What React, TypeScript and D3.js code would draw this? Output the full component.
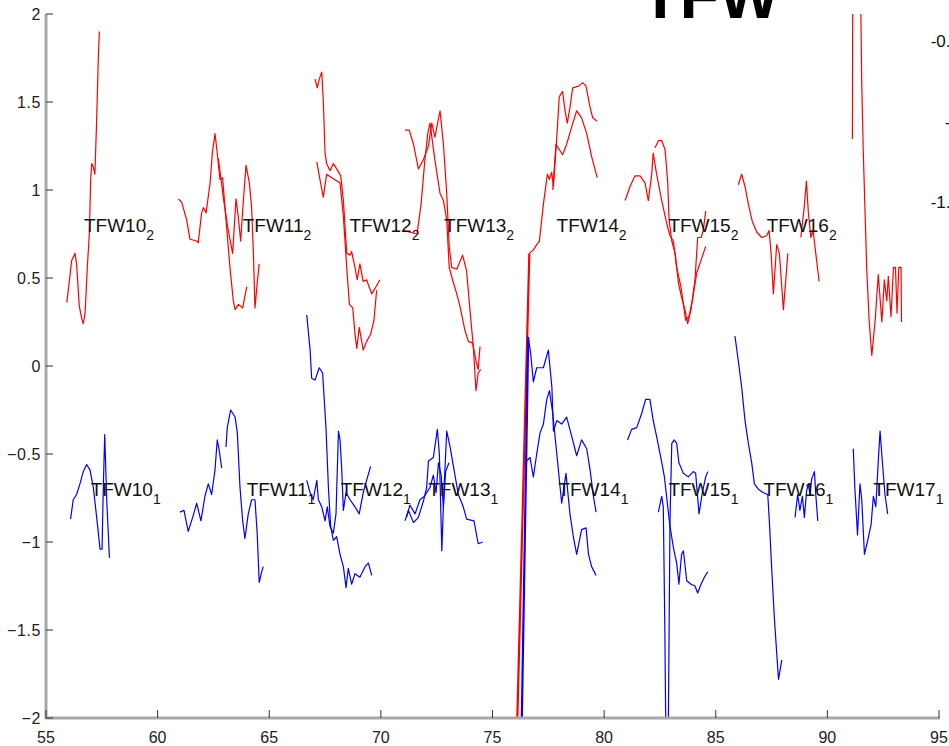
import React from "react";
import * as d3 from "d3";

type P = [number, number];

const xTicks = [55, 60, 65, 70, 75, 80, 85, 90, 95];
const yTicks = [-2, -1.5, -1, -0.5, 0, 0.5, 1, 1.5, 2];

const topNames = ["TFW10", "TFW11", "TFW12", "TFW13", "TFW14", "TFW15", "TFW16"];
const topX = [56.7, 63.81, 68.59, 72.83, 77.87, 82.88, 87.28];
const topY = 0.8;
const botNames = ["TFW10", "TFW11", "TFW12", "TFW13", "TFW14", "TFW15", "TFW16", "TFW17"];
const botX = [57.0, 63.99, 68.2, 72.12, 77.95, 82.88, 87.13, 92.06];
const botY = -0.7;

const rightLabels = ["-0.5", "-1", "-1.5"];

// series 2 (red)
const red10: P[] = [[55.93,0.36],[56.07,0.51],[56.15,0.6],[56.3,0.64],[56.37,0.58],[56.49,0.34],[56.6,0.27],[56.67,0.24],[56.75,0.3],[56.85,0.56],[56.94,0.75],[57.0,1.06],[57.05,1.15],[57.12,1.13],[57.19,1.09],[57.27,1.4],[57.34,1.74],[57.39,1.9]];
const red11a: P[] = [[60.93,0.95],[61.08,0.93],[61.3,0.83],[61.45,0.72],[61.75,0.71],[61.82,0.7],[61.97,0.87],[62.05,0.9],[62.17,0.87],[62.35,1.04],[62.45,1.21],[62.57,1.32],[62.67,1.21],[62.79,1.06],[62.91,1.07],[63.05,0.85],[63.24,0.56],[63.39,0.37],[63.47,0.32],[63.62,0.35],[63.81,0.33],[63.99,0.45]];
const red11b: P[] = [[62.72,1.18],[62.95,0.95],[63.15,0.78],[63.36,0.64],[63.51,0.95],[63.61,0.85],[63.72,0.71],[63.84,0.94],[63.96,1.14],[64.11,1.04],[64.21,0.9],[64.29,0.64],[64.36,0.33],[64.46,0.47],[64.55,0.58]];
const red12a: P[] = [[67.05,1.63],[67.15,1.58],[67.24,1.63],[67.35,1.67],[67.42,1.51],[67.5,1.21],[67.57,1.15],[67.72,1.11],[67.87,1.15],[68.02,1.12],[68.2,1.08],[68.32,0.94],[68.47,0.64],[68.62,0.63],[68.69,0.65],[68.84,0.56],[68.94,0.49],[69.06,0.58],[69.21,0.48],[69.36,0.49],[69.59,0.41],[69.78,0.45],[69.96,0.49]];
const red12b: P[] = [[67.13,1.16],[67.27,1.06],[67.42,0.96],[67.57,1.09],[67.8,1.07],[68.17,1.04],[68.32,0.85],[68.47,0.56],[68.59,0.35],[68.74,0.33],[68.84,0.18],[68.92,0.1],[69.03,0.22],[69.21,0.09],[69.36,0.14],[69.54,0.18],[69.69,0.26],[69.81,0.43]];
const red13a: P[] = [[71.08,1.34],[71.27,1.34],[71.46,1.26],[71.68,1.12],[71.9,1.17],[72.13,1.25],[72.28,1.38],[72.42,1.3],[72.65,1.45],[72.8,1.26],[72.95,0.98],[73.06,0.68],[73.17,0.56],[73.4,0.55],[73.66,0.63],[73.84,0.54],[73.99,0.32],[74.14,0.11],[74.26,-0.14],[74.36,-0.04],[74.47,-0.02]];
const red13b: P[] = [[71.0,0.77],[71.3,0.76],[71.62,0.75],[71.8,0.92],[71.97,1.17],[72.1,1.32],[72.2,1.38],[72.42,1.17],[72.65,0.98],[72.8,0.94],[72.95,0.83],[73.06,0.56],[73.21,0.49],[73.4,0.41],[73.54,0.34],[73.77,0.2],[73.92,0.14],[74.11,0.13],[74.26,0.03],[74.36,-0.02],[74.44,0.11]];
const redJump: P[] = [[76.06,-2.25],[76.65,0.64]];
const red14a: P[] = [[76.65,0.64],[76.83,0.66],[76.98,0.69],[77.1,0.71],[77.28,0.92],[77.46,1.09],[77.55,1.06],[77.65,1.1],[77.73,1.02],[77.88,1.3],[77.99,1.53],[78.14,1.56],[78.25,1.45],[78.35,1.38],[78.47,1.47],[78.59,1.58],[78.85,1.59],[79.04,1.61],[79.19,1.59],[79.37,1.47],[79.49,1.41],[79.69,1.39]];
const red14b: P[] = [[77.7,1.0],[77.84,1.26],[78.14,1.2],[78.32,1.26],[78.55,1.36],[78.77,1.45],[78.99,1.41],[79.22,1.32],[79.44,1.19],[79.69,1.07]];
const red15a: P[] = [[80.94,0.94],[81.16,1.02],[81.38,1.08],[81.61,1.08],[81.83,1.04],[81.98,0.94],[82.13,1.09],[82.2,1.21],[82.35,1.09],[82.58,0.94],[82.8,0.81],[82.95,0.74],[83.1,0.71],[83.25,0.56],[83.44,0.45],[83.55,0.35],[83.65,0.26],[83.8,0.28],[83.95,0.37],[84.15,0.53],[84.34,0.6],[84.55,0.68]];
const red15b: P[] = [[82.28,1.24],[82.43,1.28],[82.58,1.28],[82.73,1.23],[82.85,1.04],[82.91,0.83],[83.03,0.71],[83.18,0.64],[83.33,0.47],[83.47,0.39],[83.62,0.32],[83.74,0.24],[83.89,0.32],[84.07,0.49],[84.19,0.73],[84.34,0.73],[84.44,0.77],[84.55,0.88]];
const red16a: P[] = [[86.01,1.03],[86.16,1.09],[86.31,1.02],[86.46,0.92],[86.64,0.82],[86.84,0.76],[87.06,0.73],[87.28,0.74],[87.39,0.77],[87.48,0.64],[87.58,0.41],[87.73,0.69],[87.85,0.64],[88.03,0.32],[88.23,0.64]];
const red16b: P[] = [[88.81,0.73],[88.96,0.9],[89.06,1.05],[89.15,0.87],[89.26,0.73],[89.36,0.77],[89.48,0.64],[89.63,0.48]];
const red17: P[] = [[91.12,1.29],[91.14,2.3],[91.2,2.4],[91.46,2.4],[91.5,2.0],[91.54,1.6],[91.61,1.21],[91.76,0.56],[91.87,0.26],[91.99,0.06],[92.14,0.26],[92.28,0.52],[92.44,0.25],[92.55,0.49],[92.66,0.37],[92.73,0.51],[92.85,0.28],[92.96,0.56],[93.05,0.56],[93.12,0.3],[93.2,0.56],[93.3,0.56],[93.32,0.25]];

// series 1 (blue)
const blue10: P[] = [[56.1,-0.87],[56.22,-0.76],[56.37,-0.73],[56.52,-0.67],[56.67,-0.6],[56.82,-0.56],[56.97,-0.59],[57.12,-0.69],[57.27,-0.86],[57.42,-1.04],[57.51,-1.04],[57.57,-0.67],[57.63,-0.39],[57.72,-0.76],[57.84,-1.09]];
const blue11a: P[] = [[61.0,-0.83],[61.18,-0.82],[61.37,-0.94],[61.57,-0.86],[61.75,-0.78],[61.94,-0.88],[62.12,-0.74],[62.27,-0.67],[62.42,-0.73],[62.57,-0.59],[62.67,-0.42],[62.76,-0.48],[62.87,-0.58]];
const blue11b: P[] = [[63.06,-0.46],[63.12,-0.35],[63.27,-0.25],[63.47,-0.29],[63.57,-0.38],[63.69,-0.69],[63.81,-0.88],[63.91,-0.98],[64.06,-0.84],[64.21,-0.76],[64.36,-0.76],[64.46,-0.95],[64.55,-1.23],[64.66,-1.17],[64.73,-1.14]];
const blue12a: P[] = [[66.68,0.29],[66.83,0.09],[66.9,-0.07],[67.05,-0.08],[67.24,-0.01],[67.39,-0.04],[67.54,-0.35],[67.65,-0.69],[67.75,-0.91],[67.87,-0.99],[68.02,-0.97],[68.17,-1.07],[68.32,-1.14],[68.44,-1.26],[68.54,-1.15],[68.69,-1.24],[68.84,-1.18],[69.06,-1.2],[69.29,-1.14],[69.44,-1.12],[69.59,-1.19]];
const blue12b: P[] = [[66.68,-0.65],[66.83,-0.72],[66.97,-0.76],[67.13,-0.65],[67.2,-0.76],[67.35,-0.8],[67.5,-0.88],[67.6,-0.8],[67.72,-0.91],[67.87,-0.95],[67.99,-0.84],[68.1,-0.37],[68.17,-0.42],[68.24,-0.57],[68.32,-0.82],[68.44,-0.72],[68.62,-0.76],[68.84,-0.8],[69.03,-0.84],[69.21,-0.72],[69.36,-0.65],[69.54,-0.57]];
const blue13a: P[] = [[71.08,-0.88],[71.23,-0.82],[71.46,-0.89],[71.68,-0.86],[71.9,-0.77],[72.05,-0.69],[72.13,-0.54],[72.35,-0.52],[72.53,-0.36],[72.62,-0.5],[72.73,-1.05],[72.83,-0.69],[72.95,-0.37],[73.1,-0.46],[73.25,-0.57],[73.47,-0.73],[73.69,-0.8],[73.84,-0.87],[74.17,-0.88],[74.36,-1.01],[74.56,-1.0]];
const blue13b: P[] = [[71.15,-0.86],[71.3,-0.79],[71.53,-0.84],[71.75,-0.76],[71.95,-0.74],[72.2,-0.69],[72.35,-0.62],[72.47,-0.72],[72.58,-0.55],[72.7,-0.62],[72.8,-0.8],[72.9,-0.6],[73.05,-0.55]];
const blueJump: P[] = [[76.28,-2.25],[76.6,0.165]];
const blue14a: P[] = [[76.6,0.165],[76.71,0.07],[76.83,-0.09],[76.98,-0.01],[77.13,-0.01],[77.28,-0.01],[77.5,0.09],[77.66,-0.12],[77.73,-0.37],[77.88,-0.31],[78.1,-0.33],[78.32,-0.29],[78.55,-0.4],[78.77,-0.51],[78.99,-0.42],[79.22,-0.47],[79.37,-0.59],[79.52,-0.74],[79.64,-0.83]];
const blue14b: P[] = [[76.46,-0.65],[76.53,-0.54],[76.68,-0.52],[76.83,-0.63],[76.98,-0.5],[77.13,-0.38],[77.28,-0.33],[77.43,-0.19],[77.55,-0.14],[77.7,-0.27],[77.88,-0.5],[78.1,-0.78],[78.29,-0.61],[78.47,-0.84],[78.62,-0.97],[78.77,-1.07],[78.99,-0.93],[79.19,-0.92],[79.3,-1.07],[79.44,-1.14],[79.64,-1.19]];
const blue15a: P[] = [[81.05,-0.42],[81.23,-0.36],[81.46,-0.35],[81.68,-0.27],[81.86,-0.19],[82.05,-0.19],[82.2,-0.31],[82.35,-0.4],[82.54,-0.52],[82.7,-0.63],[82.85,-0.8],[82.95,-0.91],[83.1,-1.03],[83.25,-1.12],[83.35,-1.24],[83.47,-1.07],[83.55,-1.05],[83.7,-1.22],[83.89,-1.24],[84.07,-1.25],[84.19,-1.29],[84.34,-1.24],[84.49,-1.2],[84.64,-1.17]];
const blue15b: P[] = [[82.43,-0.83],[82.58,-0.74],[82.65,-0.8],[82.72,-1.5],[82.78,-2.3],[82.86,-2.3],[82.95,-0.88],[83.03,-0.44],[83.14,-0.42],[83.25,-0.44],[83.35,-0.55],[83.55,-0.61],[83.77,-0.63],[83.99,-0.6],[84.1,-0.61],[84.25,-0.84],[84.4,-0.72],[84.55,-0.63],[84.64,-0.6]];
const blue16a: P[] = [[85.86,0.17],[86.01,0.03],[86.16,-0.12],[86.31,-0.31],[86.46,-0.44],[86.61,-0.55],[86.73,-0.67],[86.91,-0.7],[87.13,-0.72],[87.33,-0.73],[87.4,-0.88],[87.51,-1.16],[87.63,-1.44],[87.73,-1.63],[87.81,-1.78],[87.96,-1.67]];
const blue16b: P[] = [[88.55,-0.86],[88.67,-0.73],[88.77,-0.82],[88.88,-0.74],[88.97,-0.86],[89.07,-0.71],[89.15,-0.67],[89.22,-0.73],[89.3,-0.64],[89.42,-0.6],[89.48,-0.73],[89.57,-0.88]];
const blue17: P[] = [[91.16,-0.47],[91.23,-0.69],[91.35,-0.96],[91.46,-0.67],[91.54,-0.76],[91.66,-1.07],[91.81,-0.99],[91.96,-0.9],[92.06,-0.74],[92.17,-0.8],[92.28,-0.54],[92.36,-0.37],[92.46,-0.54],[92.58,-0.73],[92.7,-0.84]];

const redSeries = [red10, red11a, red11b, red12a, red12b, red13a, red13b, red14a, red14b, red15a, red15b, red16a, red16b, red17];
const blueSeries = [blue10, blue11a, blue11b, blue12a, blue12b, blue13a, blue13b, blue14a, blue14b, blue15a, blue15b, blue16a, blue16b, blue17];

const W = 949;
const H = 746;
const FONT = "'Liberation Sans', Arial, Helvetica, sans-serif";

export default function App() {
  const x = d3.scaleLinear().domain([55, 95]).range([46, 939]);
  const y = d3.scaleLinear().domain([-2, 2]).range([718, 14]);
  const line = d3.line<P>().x((d) => x(d[0])).y((d) => y(d[1]));
  const fmt = (v: number) => (v < 0 ? "\u2212" + String(Math.abs(v)) : String(v));

  return (
    <svg width={W} height={H} style={{ position: "absolute", left: 0, top: 0, background: "#fff" }} fontFamily={FONT}>
      <defs>
        <clipPath id="plotclip">
          <rect x={46} y={14} width={893} height={704} />
        </clipPath>
      </defs>
      <rect x={0} y={0} width={W} height={H} fill="#fff" />
      {/* title, cropped at the top */}
      <text x={710} y={18} textAnchor="middle" fontSize={64} fontWeight="bold" fill="#000">TFW</text>
      {/* neighbouring axis tick labels */}
      {rightLabels.map((t, i) => (
        <text key={t} x={960} y={47 + i * 80.5} textAnchor="end" fontSize={17} fill="#111">{t}</text>
      ))}
      {/* lines */}
      <g clipPath="url(#plotclip)" fill="none">
        {redSeries.map((s, i) => (
          <path key={"r" + i} d={line(s) || ""} stroke="#ff0000" strokeWidth={1.2} strokeLinejoin="round" />
        ))}
        {blueSeries.map((s, i) => (
          <path key={"b" + i} d={line(s) || ""} stroke="#0000ff" strokeWidth={1.2} strokeLinejoin="round" />
        ))}
        <path d={line(redJump) || ""} stroke="#ff0000" strokeWidth={2.2} />
        <path d={line(blueJump) || ""} stroke="#0000ff" strokeWidth={2.2} />
      </g>
      {/* labels */}
      {topNames.map((n, i) => (
        <text key={"t" + n} x={x(topX[i])} y={y(topY)} dy="0.35em" fontSize={19} fill="#111">
          {n}
          <tspan dy={8} fontSize={14}>2</tspan>
        </text>
      ))}
      {botNames.map((n, i) => (
        <text key={"b" + n} x={x(botX[i])} y={y(botY)} dy="0.35em" fontSize={19} fill="#111">
          {n}
          <tspan dy={8} fontSize={14}>1</tspan>
        </text>
      ))}
      {/* axes */}
      <line x1={46} x2={46} y1={14} y2={719} stroke="#a8a8a8" strokeWidth={3} />
      <line x1={45} x2={940} y1={718} y2={718} stroke="#a8a8a8" strokeWidth={3} />
      {yTicks.map((t) => (
        <g key={"yt" + t}>
          <line x1={46} x2={53} y1={y(t)} y2={y(t)} stroke="#333" strokeWidth={1} />
          <text x={41} y={y(t)} dy="0.35em" textAnchor="end" fontSize={16} letterSpacing={0.6} fill="#222">{fmt(t)}</text>
        </g>
      ))}
      {xTicks.map((t) => (
        <g key={"xt" + t}>
          <line x1={x(t)} x2={x(t)} y1={718} y2={710} stroke="#333" strokeWidth={1} />
          <text x={x(t)} y={743} textAnchor="middle" fontSize={16} fill="#222">{t}</text>
        </g>
      ))}
    </svg>
  );
}
